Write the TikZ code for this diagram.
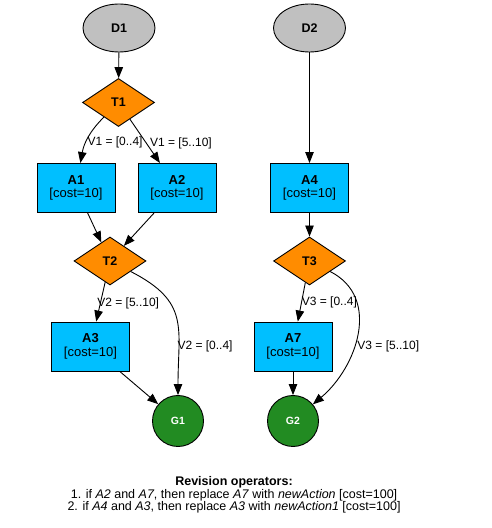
\documentclass[tikz,border=0pt]{standalone}
\usepackage{fontspec}
\setmainfont{Liberation Sans}
\usetikzlibrary{arrows.meta,shapes.geometric}
\definecolor{dgray}{RGB}{192,192,192}
\definecolor{torange}{RGB}{255,140,0}
\definecolor{ablue}{RGB}{0,191,255}
\definecolor{ggreen}{RGB}{34,139,34}

\begin{document}
\begin{tikzpicture}[->,>={Triangle[length=11pt,width=8.5pt]},x=1pt,y=1pt,
      line width=0.9pt,
      data/.style={ellipse,draw,fill=dgray,minimum width=72pt,minimum height=48pt,
        font=\fontsize{12.5}{13}\selectfont\bfseries},
      test/.style={diamond,draw,fill=torange,minimum width=72pt,minimum height=48pt,
        inner sep=1pt,font=\fontsize{12.5}{13}\selectfont\bfseries},
      action/.style={rectangle,draw,fill=ablue,minimum width=78pt,minimum height=49pt,
        align=center,font=\fontsize{13}{13.5}\selectfont},
      goal/.style={circle,draw,fill=ggreen,minimum size=51pt,text=white,
        font=\fontsize{10.5}{12}\selectfont\bfseries},
      lbl/.style={anchor=west,inner sep=0pt,font=\fontsize{12}{13}\selectfont}]
      \useasboundingbox (0,0) rectangle (491,528);

      \node[data] (D1) at (119, 500) {D1};
      \node[test] (T1) at (118.5, 425.5) {T1};
      \node[action] (A1) at (76, 340) {\textbf{A1}\\{}[cost=10]};
      \node[action] (A2) at (177, 340) {\textbf{A2}\\{}[cost=10]};
      \node[test] (T2) at (110, 267) {T2};
      \node[action] (A3) at (90.5, 181.5) {\textbf{A3}\\{}[cost=10]};
      \node[goal] (G1) at (178, 107) {G1};

      \node[data] (D2) at (309.5, 500) {D2};
      \node[action] (A4) at (309.5, 340) {\textbf{A4}\\{}[cost=10]};
      \node[test] (T3) at (309.5, 267) {T3};
      \node[action] (A7) at (293, 181.5) {\textbf{A7}\\{}[cost=10]};
      \node[goal] (G2) at (293, 107) {G2};

      \node[align=center,font=\fontsize{12.5}{12.5}\selectfont] (ops) at (234, 33)
        {\textbf{Revision operators:}\\
         1. if \textit{A2} and \textit{A7}, then replace \textit{A7} with \textit{newAction} [cost=100]\\
         2. if \textit{A4} and \textit{A3}, then replace \textit{A3} with \textit{newAction1} [cost=100]};

      \path
      (D1) edge (T1)
      (T1) edge [out=225, in=80] node[lbl, pos=0.6, xshift=1pt] {V1 = [0..4]} (A1)
      (T1) edge node[lbl, pos=0.54, xshift=3.5pt] {V1 = [5..10]} (A2)
      (A1) edge (T2)
      (A2) edge (T2)
      (T2) edge node[lbl, pos=0.53, xshift=-3.5pt] {V2 = [5..10]} (A3)
      (T2) edge [out=-27, in=90, looseness=1.3] node[lbl, pos=0.71, xshift=-2pt] {V2 = [0..4]} (G1)
      (A3) edge (G1)

      (D2) edge (A4)
      (A4) edge (T3)
      (T3) edge node[lbl, pos=0.52] {V3 = [0..4]} (A7)
      (T3) edge [out=-27, in=40, looseness=1.1] node[lbl, pos=0.58, xshift=3pt] {V3 = [5..10]} (G2)
      (A7) edge (G2)
      ;
\end{tikzpicture}
\end{document}
